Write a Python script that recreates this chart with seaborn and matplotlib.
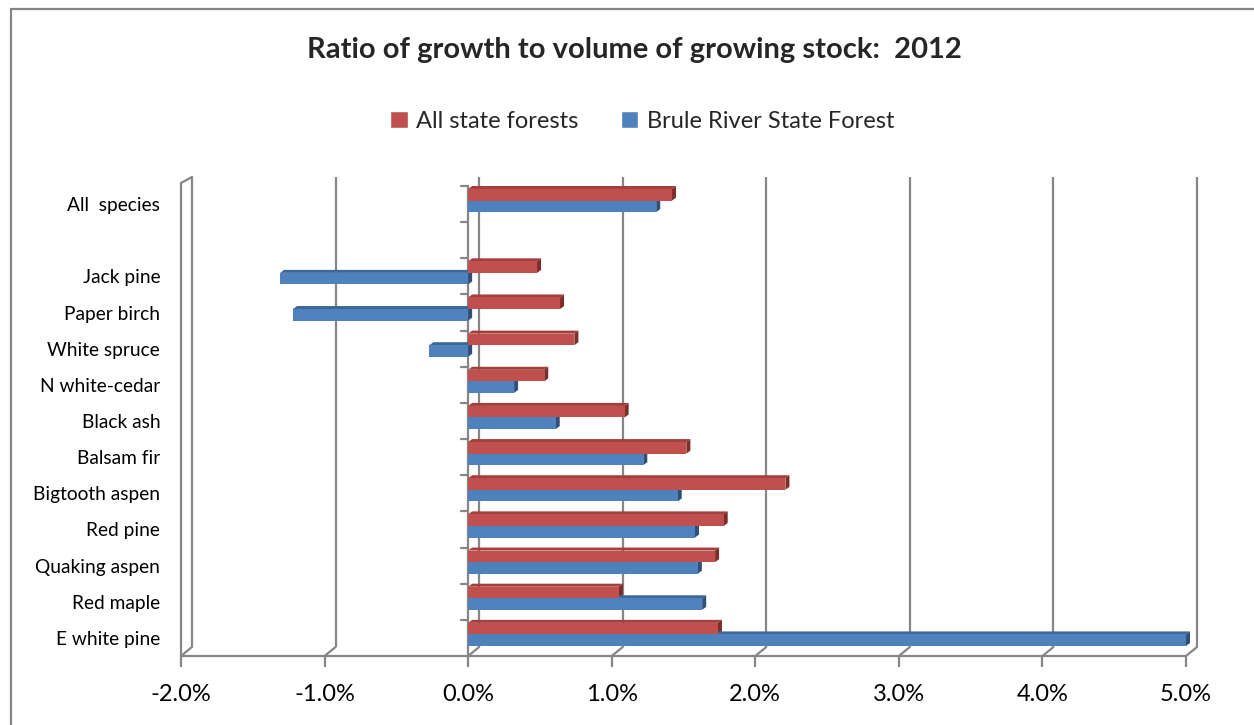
import numpy as np
import pandas as pd
import matplotlib
matplotlib.use("Agg")
import matplotlib.pyplot as plt
import matplotlib.transforms as mtransforms
from matplotlib.patches import Polygon, Patch, Rectangle
import seaborn as sns

# ---- data -------------------------------------------------------------
species = ["All  species", "", "Jack pine", "Paper birch", "White spruce",
           "N white-cedar", "Black ash", "Balsam fir", "Bigtooth aspen",
           "Red pine", "Quaking aspen", "Red maple", "E white pine"]
all_state_forests = [1.42, np.nan, 0.48, 0.64, 0.74, 0.53, 1.09, 1.52, 2.21,
                     1.78, 1.72, 1.05, 1.74]
brule_river = [1.31, np.nan, -1.31, -1.22, -0.27, 0.32, 0.61, 1.22, 1.46,
               1.58, 1.60, 1.63, 5.00]
series_names = ["All state forests", "Brule River State Forest"]
x_ticks = [-2, -1, 0, 1, 2, 3, 4, 5]
x_tick_labels = ["-2.0%", "-1.0%", "0.0%", "1.0%", "2.0%", "3.0%", "4.0%", "5.0%"]
title = "Ratio of growth to volume of growing stock:  2012"

df = pd.DataFrame({
    "species": species * 2,
    "value": all_state_forests + brule_river,
    "series": [series_names[0]] * len(species) + [series_names[1]] * len(species),
})

# ---- styling ----------------------------------------------------------
sns.set_style("white")
plt.rcParams["font.family"] = ["Lato", "DejaVu Sans"]

RED, BLUE = "#C0504D", "#4F81BD"
RED_TOP, RED_SIDE = "#A33F3C", "#7E2C2A"
BLUE_TOP, BLUE_SIDE = "#3D6797", "#2D4F78"
GRID = "#868686"

W_PX, H_PX, DPI = 1254, 725, 100
fig = plt.figure(figsize=(W_PX / DPI, H_PX / DPI), dpi=DPI)
fig.patch.set_facecolor("white")

left, right, top, bottom = 181, 1186, 186, 656
ax = fig.add_axes([left / W_PX, 1 - bottom / H_PX,
                   (right - left) / W_PX, (bottom - top) / H_PX])

sns.barplot(data=df, x="value", y="species", hue="series", order=species,
            hue_order=series_names, palette=[RED, BLUE], width=0.64,
            orient="h", saturation=1, errorbar=None, legend=False, ax=ax)

ax.set_xlim(x_ticks[0], x_ticks[-1])
ax.set_ylim(len(species) - 0.5, -0.5)
for s in ax.spines.values():
    s.set_visible(False)
ax.set_xlabel("")
ax.set_ylabel("")

# pixel -> data unit conversions
px_x = (x_ticks[-1] - x_ticks[0]) / (right - left)
px_y = len(species) / (bottom - top)
px_ax = 1.0 / (bottom - top)

# ---- back wall, floor and gridlines ----------------------------------
blend = mtransforms.blended_transform_factory(ax.transData, ax.transAxes)
bdx, bdy = 11 * px_x, 9 * px_ax
for v in x_ticks:
    ax.plot([v + bdx, v + bdx], [bdy, 1 + bdy], color=GRID, lw=1.6,
            transform=blend, clip_on=False, zorder=1, solid_capstyle="butt")
    ax.plot([v, v + bdx], [0, bdy], color=GRID, lw=1.6,
            transform=blend, clip_on=False, zorder=1)
# front floor edge and left wall front edge
ax.plot([x_ticks[0], x_ticks[-1]], [0, 0], color=GRID, lw=1.6,
        transform=blend, clip_on=False, zorder=1)
ax.plot([x_ticks[0], x_ticks[0]], [0, 1 + 3 * px_ax], color=GRID, lw=1.6,
        transform=blend, clip_on=False, zorder=1)
ax.plot([x_ticks[0], x_ticks[0] + bdx], [1 + 3 * px_ax, 1 + bdy], color=GRID,
        lw=1.6, transform=blend, clip_on=False, zorder=1)

# category axis at zero with boundary ticks
ax.plot([0, 0], [-0.5, len(species) - 0.5], color=GRID, lw=1.6, zorder=2,
        clip_on=False)
for k in range(len(species)):
    yb = k - 0.5
    ax.plot([-7 * px_x, 0], [yb, yb], color=GRID, lw=1.6, zorder=2,
            clip_on=False)

# ---- bars with a little depth ----------------------------------------
shift = 3.5 * px_y
ddx, ddy = 4 * px_x, 3 * px_y
face_colors = [(RED_TOP, RED_SIDE), (BLUE_TOP, BLUE_SIDE)]
for ci, cont in enumerate(ax.containers):
    top_c, side_c = face_colors[ci]
    for p in cont.patches:
        w = p.get_width()
        p.set_y(p.get_y() - shift)
        p.set_zorder(3)
        p.set_edgecolor("none")
        if not np.isfinite(w) or abs(w) < 1e-9:
            continue
        x0, y0, h = p.get_x(), p.get_y(), p.get_height()
        xl, xr = min(x0, x0 + w), max(x0, x0 + w)
        ax.add_patch(Polygon([(xl, y0), (xr, y0), (xr + ddx, y0 - ddy),
                              (xl + ddx, y0 - ddy)], closed=True,
                             facecolor=top_c, edgecolor="none", zorder=2.5,
                             clip_on=False))
        ax.add_patch(Polygon([(xr, y0), (xr + ddx, y0 - ddy),
                              (xr + ddx, y0 + h - ddy), (xr, y0 + h)],
                             closed=True, facecolor=side_c, edgecolor="none",
                             zorder=2.5, clip_on=False))

# ---- ticks and labels -------------------------------------------------
ax.set_xticks(x_ticks)
ax.set_xticklabels(x_tick_labels)
ax.tick_params(axis="x", bottom=True, length=8, width=1.6, color=GRID,
               labelsize=17, pad=12, labelcolor="black")
ax.set_yticks(range(len(species)))
ax.set_yticklabels(species)
ax.tick_params(axis="y", left=False, length=0, pad=15, labelsize=13.8,
               labelcolor="black")
ax.grid(False)

fig.text(634 / W_PX, 1 - 50 / H_PX, title, ha="center", va="center",
         fontsize=21, fontweight="bold")

handles = [Patch(facecolor=RED), Patch(facecolor=BLUE)]
fig.legend(handles, series_names, loc="center",
           bbox_to_anchor=(642 / W_PX, 1 - 121 / H_PX), ncol=2, frameon=False,
           fontsize=17, handlelength=0.75, handleheight=0.75,
           handletextpad=0.35, columnspacing=1.8)

# chart area border
fig.add_artist(Rectangle((11 / W_PX, -0.05), 1.1, 1.05 - 9 / H_PX,
                         transform=fig.transFigure, fill=False,
                         edgecolor=GRID, lw=1.6))

fig.savefig("out.png", dpi=DPI)
